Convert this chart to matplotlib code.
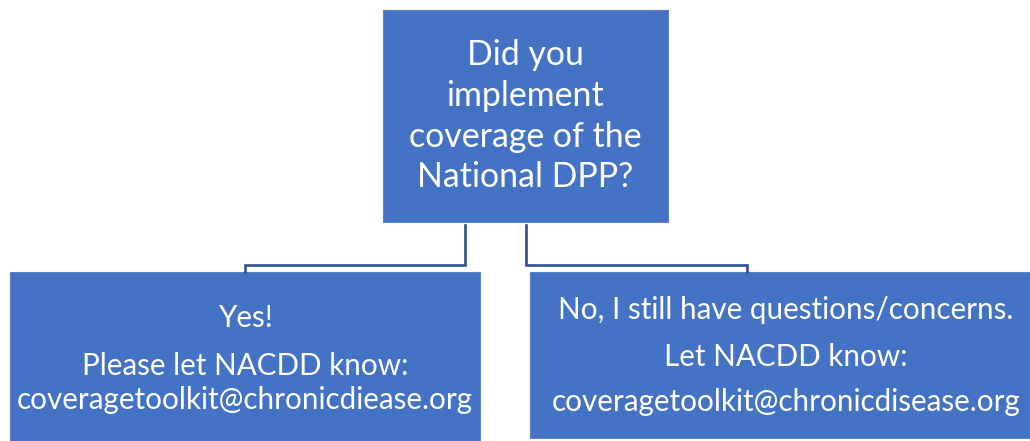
import matplotlib
matplotlib.use("Agg")
import matplotlib.pyplot as plt
from matplotlib.patches import Rectangle

plt.rcParams['font.family'] = ['Lato', 'DejaVu Sans']

# boxes: (left, top, right, bottom) in pixels
top_box = (383, 10, 668, 222)
left_box = (10, 272, 480, 445)
right_box = (530, 272, 1032, 438)

top_lines = ["Did you", "implement", "coverage of the", "National DPP?"]
top_y = [55, 96, 137, 177]

left_lines = ["Yes!", "Please let NACDD know:", "coveragetoolkit@chronicdiease.org"]
left_y = [318, 366, 400]

right_lines = ["No, I still have questions/concerns.", "Let NACDD know:",
               "coveragetoolkit@chronicdisease.org"]
right_y = [310, 357, 402]

# connectors (x, y) polylines
left_conn = [(465, 225), (465, 265), (245, 265), (245, 272)]
right_conn = [(526, 225), (526, 265), (747, 265), (747, 272)]

box_color = "#4472C4"
line_color = "#2F528F"

W, H = 1030, 441
fig = plt.figure(figsize=(W / 100, H / 100), dpi=100)
ax = fig.add_axes([0, 0, 1, 1])
ax.set_xlim(0, W)
ax.set_ylim(H, 0)
ax.axis("off")


def draw_box(b):
    x0, y0, x1, y1 = b
    ax.add_patch(Rectangle((x0, y0), x1 - x0, y1 - y0, facecolor=box_color,
                           edgecolor="#5b83cc", linewidth=0.8))


def size_for(s, width):
    # font size that gives the wanted pixel width for s
    t = ax.text(0, 0, s, fontsize=10)
    w = t.get_window_extent(renderer=fig.canvas.get_renderer()).width
    t.remove()
    return 10 * width / w


for b in (top_box, left_box, right_box):
    draw_box(b)

for conn in (left_conn, right_conn):
    xs = [p[0] for p in conn]
    ys = [p[1] for p in conn]
    ax.plot(xs, ys, color=line_color, linewidth=1.9, solid_joinstyle="miter")

top_size = size_for(top_lines[2], 233)
for s, y in zip(top_lines, top_y):
    ax.text(525, y, s, color="white", fontsize=top_size, ha="center", va="center")

low_size = size_for(right_lines[2], 470)
for s, y in zip(left_lines, left_y):
    ax.text(245, y, s, color="white", fontsize=low_size, ha="center", va="center")
for s, y in zip(right_lines, right_y):
    ax.text(786, y, s, color="white", fontsize=low_size, ha="center", va="center")

fig.savefig("out.png", dpi=100)
